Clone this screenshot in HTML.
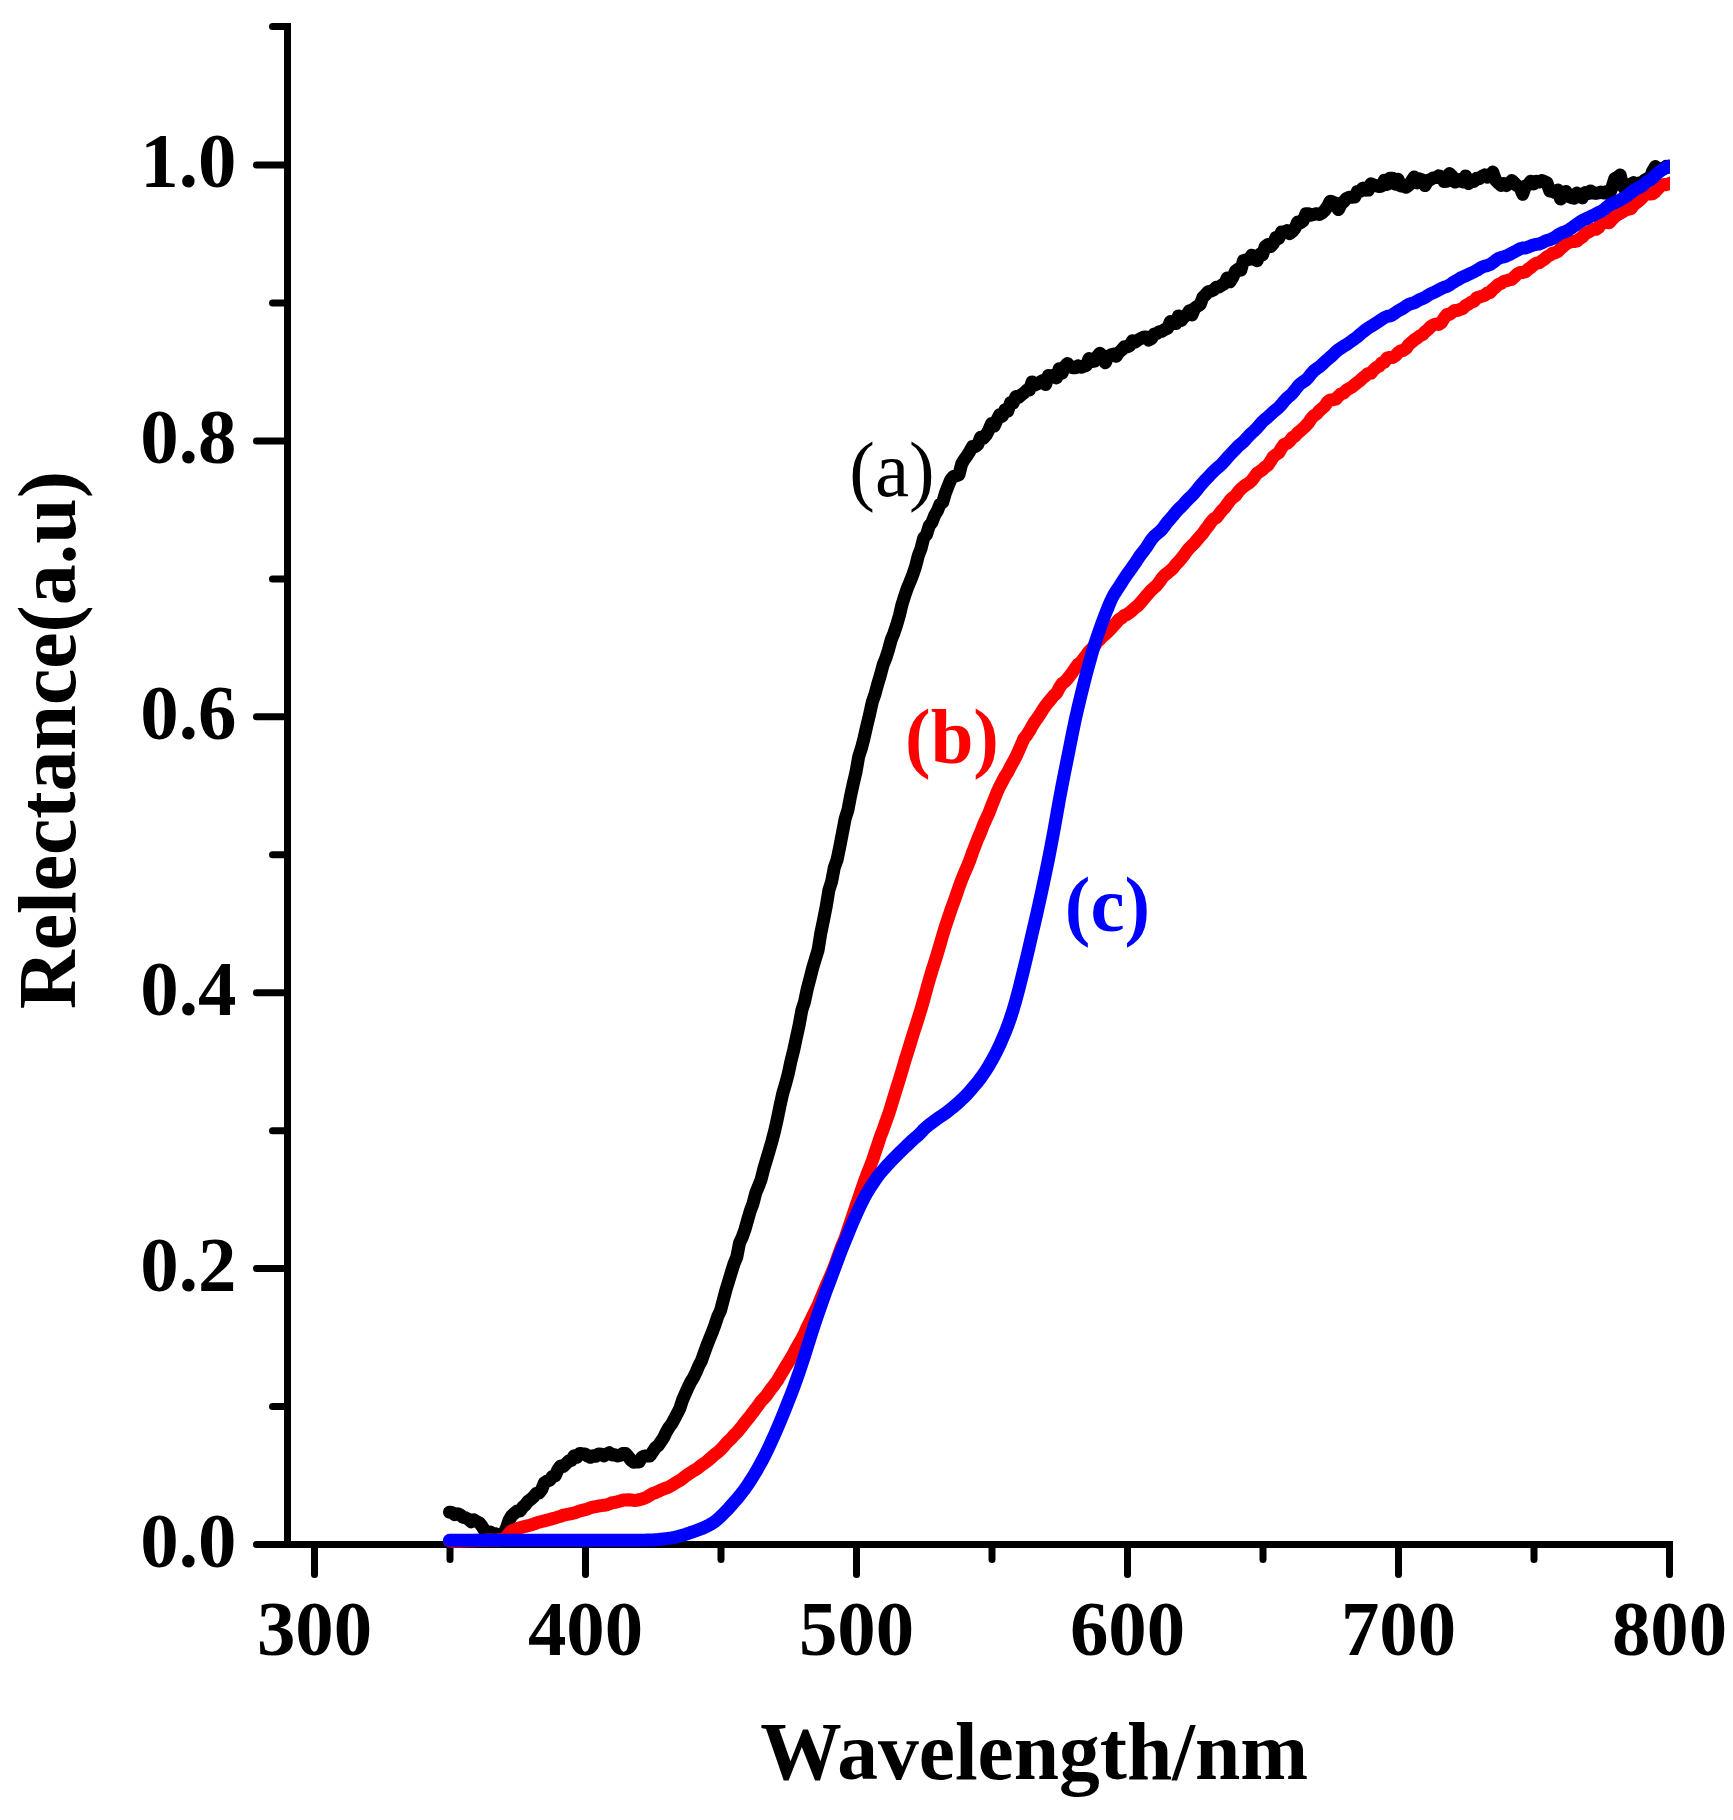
<!DOCTYPE html>
<html><head><meta charset="utf-8"><title>Reflectance spectra</title>
<style>html,body{margin:0;padding:0;background:#fff}svg{display:block}</style></head>
<body>
<svg width="1733" height="1820" viewBox="0 0 1733 1820">
<defs><clipPath id="cp"><rect x="284" y="20" width="1386" height="1530"/></clipPath></defs>
<rect width="1733" height="1820" fill="#fff"/>
<g stroke="#000" stroke-width="7" stroke-linecap="round" fill="none">
<path d="M287.5,23.0 V1548.0" stroke-linecap="butt"/>
<path d="M287.5,1544.5 H1673.0" stroke-linecap="butt"/>
<path d="M256.5,1544.5 H287.5"/>
<path d="M272.5,1406.5 H287.5"/>
<path d="M256.5,1268.6 H287.5"/>
<path d="M272.5,1130.7 H287.5"/>
<path d="M256.5,992.7 H287.5"/>
<path d="M272.5,854.8 H287.5"/>
<path d="M256.5,716.8 H287.5"/>
<path d="M272.5,578.9 H287.5"/>
<path d="M256.5,440.9 H287.5"/>
<path d="M272.5,303.0 H287.5"/>
<path d="M256.5,165.0 H287.5"/>
<path d="M272.5,26.5 H287.5"/>
<path d="M314.5,1544.5 V1574.5"/>
<path d="M450.0,1544.5 V1559.5"/>
<path d="M585.5,1544.5 V1574.5"/>
<path d="M721.0,1544.5 V1559.5"/>
<path d="M856.5,1544.5 V1574.5"/>
<path d="M992.0,1544.5 V1559.5"/>
<path d="M1127.5,1544.5 V1574.5"/>
<path d="M1263.0,1544.5 V1559.5"/>
<path d="M1398.5,1544.5 V1574.5"/>
<path d="M1534.0,1544.5 V1559.5"/>
<path d="M1669.5,1544.5 V1574.5"/>
</g>
<g clip-path="url(#cp)" fill="none" stroke-linejoin="round" stroke-linecap="round">
<polyline stroke="#000" stroke-width="13" points="449.5,1512.2 452.2,1512.7 454.9,1514.7 457.6,1513.7 460.3,1514.9 463.0,1517.2 465.8,1517.9 468.5,1519.3 471.2,1521.8 473.9,1519.9 476.6,1521.5 479.3,1522.8 482.0,1526.3 484.7,1530.7 487.4,1531.9 490.1,1532.0 492.9,1533.5 495.6,1533.8 498.3,1535.1 501.0,1535.6 503.7,1533.5 506.4,1528.0 509.1,1520.1 511.8,1515.6 514.5,1513.3 517.2,1511.1 520.0,1511.1 522.7,1507.2 525.4,1504.8 528.1,1501.3 530.8,1499.3 533.5,1496.9 536.2,1493.5 538.9,1493.1 541.6,1489.7 544.3,1483.0 547.1,1481.1 549.8,1480.1 552.5,1476.4 555.2,1475.8 557.9,1469.6 560.6,1466.0 563.3,1466.5 566.0,1463.7 568.7,1460.9 571.4,1460.3 574.2,1455.7 576.9,1457.3 579.6,1453.4 582.3,1453.7 585.0,1453.9 587.7,1456.0 590.4,1457.3 593.1,1455.8 595.8,1456.2 598.5,1453.9 601.3,1454.2 604.0,1455.9 606.7,1454.1 609.4,1452.7 612.1,1454.9 614.8,1454.7 617.5,1456.1 620.2,1455.3 622.9,1453.6 625.6,1453.4 628.4,1456.7 631.1,1460.2 633.8,1462.2 636.5,1461.9 639.2,1461.9 641.9,1457.1 644.6,1455.9 647.3,1455.9 650.0,1455.9 652.7,1451.9 655.5,1447.7 658.2,1445.6 660.9,1441.6 663.6,1437.6 666.3,1432.0 669.0,1427.4 671.7,1423.9 674.4,1418.9 677.1,1413.8 679.8,1408.4 682.6,1399.8 685.3,1393.6 688.0,1387.6 690.7,1382.0 693.4,1377.7 696.1,1372.1 698.8,1365.7 701.5,1360.6 704.2,1352.8 706.9,1345.5 709.7,1338.4 712.4,1331.8 715.1,1324.4 717.8,1316.3 720.5,1310.7 723.2,1300.3 725.9,1290.1 728.6,1281.4 731.3,1272.3 734.0,1263.8 736.8,1257.0 739.5,1243.0 742.2,1237.2 744.9,1229.6 747.6,1220.1 750.3,1210.7 753.0,1203.6 755.7,1193.1 758.4,1186.6 761.1,1179.5 763.9,1168.4 766.6,1159.5 769.3,1150.4 772.0,1141.0 774.7,1130.7 777.4,1118.6 780.1,1105.2 782.8,1093.1 785.5,1084.1 788.2,1074.0 791.0,1060.8 793.7,1050.2 796.4,1037.5 799.1,1025.1 801.8,1010.3 804.5,1002.0 807.2,989.1 809.9,978.8 812.6,968.1 815.3,959.2 818.1,950.0 820.8,933.1 823.5,920.1 826.2,906.6 828.9,890.0 831.6,881.7 834.3,867.4 837.0,860.1 839.7,847.2 842.4,833.0 845.2,818.5 847.9,810.1 850.6,795.8 853.3,783.5 856.0,772.1 858.7,756.5 861.4,748.3 864.1,737.8 866.8,725.9 869.5,714.8 872.3,701.8 875.0,694.1 877.7,684.1 880.4,675.1 883.1,664.9 885.8,658.2 888.5,649.8 891.2,639.8 893.9,633.2 896.6,625.2 899.4,615.5 902.1,604.1 904.8,595.6 907.5,587.7 910.2,581.3 912.9,574.4 915.6,566.4 918.3,555.6 921.0,548.6 923.7,537.9 926.5,534.6 929.2,525.8 931.9,522.5 934.6,515.5 937.3,511.0 940.0,504.3 942.7,502.3 945.4,493.2 948.1,486.2 950.8,479.5 953.6,476.4 956.3,475.9 959.0,474.7 961.7,463.9 964.4,459.3 967.1,455.7 969.8,451.3 972.5,446.6 975.2,446.6 977.9,444.4 980.7,437.2 983.4,438.2 986.1,435.1 988.8,430.0 991.5,423.4 994.2,426.1 996.9,420.0 999.6,414.7 1002.3,416.2 1005.0,409.9 1007.8,411.1 1010.5,402.8 1013.2,403.0 1015.9,396.5 1018.6,397.3 1021.3,394.9 1024.0,393.0 1026.7,390.3 1029.4,390.0 1032.1,381.9 1034.9,385.1 1037.6,383.7 1040.3,382.0 1043.0,380.5 1045.7,384.5 1048.4,375.5 1051.1,376.4 1053.8,375.1 1056.5,377.9 1059.2,368.7 1062.0,373.3 1064.7,366.6 1067.4,363.5 1070.1,366.2 1072.8,367.7 1075.5,367.8 1078.2,365.9 1080.9,367.3 1083.6,366.3 1086.3,365.5 1089.1,358.5 1091.8,361.7 1094.5,361.2 1097.2,356.5 1099.9,353.3 1102.6,356.0 1105.3,362.8 1108.0,356.4 1110.7,355.0 1113.4,354.1 1116.2,356.3 1118.9,352.4 1121.6,350.1 1124.3,346.7 1127.0,346.9 1129.7,345.8 1132.4,340.7 1135.1,342.2 1137.8,340.1 1140.5,338.6 1143.3,337.3 1146.0,336.9 1148.7,340.1 1151.4,338.6 1154.1,334.1 1156.8,333.5 1159.5,331.6 1162.2,331.2 1164.9,329.4 1167.6,328.3 1170.4,321.5 1173.1,323.2 1175.8,323.5 1178.5,315.9 1181.2,320.5 1183.9,316.9 1186.6,315.2 1189.3,310.8 1192.0,315.0 1194.7,308.1 1197.5,306.2 1200.2,304.5 1202.9,297.3 1205.6,294.6 1208.3,291.6 1211.0,291.1 1213.7,289.9 1216.4,287.3 1219.1,287.0 1221.8,285.1 1224.6,283.5 1227.3,277.9 1230.0,281.8 1232.7,277.5 1235.4,271.2 1238.1,269.1 1240.8,270.3 1243.5,260.5 1246.2,259.9 1248.9,259.6 1251.7,255.2 1254.4,259.4 1257.1,260.7 1259.8,254.1 1262.5,255.0 1265.2,246.5 1267.9,244.6 1270.6,246.5 1273.3,243.6 1276.0,237.5 1278.8,238.3 1281.5,232.0 1284.2,232.1 1286.9,230.7 1289.6,233.7 1292.3,231.5 1295.0,228.3 1297.7,221.9 1300.4,222.9 1303.1,220.8 1305.9,213.8 1308.6,213.8 1311.3,215.2 1314.0,214.3 1316.7,213.7 1319.4,214.4 1322.1,212.8 1324.8,210.4 1327.5,206.4 1330.2,201.2 1333.0,202.2 1335.7,203.3 1338.4,209.6 1341.1,204.1 1343.8,201.7 1346.5,198.4 1349.2,197.3 1351.9,197.3 1354.6,197.1 1357.3,191.6 1360.1,191.5 1362.8,188.1 1365.5,190.2 1368.2,190.1 1370.9,183.7 1373.6,185.1 1376.3,185.8 1379.0,186.6 1381.7,186.1 1384.4,180.2 1387.2,184.4 1389.9,178.3 1392.6,178.3 1395.3,184.2 1398.0,179.2 1400.7,185.9 1403.4,186.0 1406.1,187.2 1408.8,185.2 1411.5,181.1 1414.3,177.0 1417.0,182.9 1419.7,178.9 1422.4,180.0 1425.1,185.6 1427.8,180.4 1430.5,179.7 1433.2,177.9 1435.9,177.6 1438.6,175.8 1441.4,176.9 1444.1,181.6 1446.8,181.3 1449.5,173.6 1452.2,176.3 1454.9,182.1 1457.6,181.1 1460.3,179.5 1463.0,182.1 1465.7,175.9 1468.5,183.6 1471.2,181.6 1473.9,181.4 1476.6,178.3 1479.3,178.8 1482.0,176.3 1484.7,174.9 1487.4,177.1 1490.1,175.3 1492.8,172.1 1495.6,180.1 1498.3,182.8 1501.0,185.4 1503.7,183.6 1506.4,185.5 1509.1,183.5 1511.8,180.6 1514.5,183.1 1517.2,185.8 1519.9,186.9 1522.7,194.3 1525.4,186.1 1528.1,184.7 1530.8,181.2 1533.5,184.0 1536.2,181.2 1538.9,182.1 1541.6,180.6 1544.3,181.4 1547.0,182.8 1549.8,191.0 1552.5,191.3 1555.2,192.6 1557.9,190.1 1560.6,199.1 1563.3,192.7 1566.0,191.5 1568.7,196.5 1571.4,197.6 1574.1,198.2 1576.9,193.1 1579.6,195.8 1582.3,197.9 1585.0,192.6 1587.7,193.7 1590.4,190.9 1593.1,193.1 1595.8,193.4 1598.5,192.9 1601.2,192.1 1604.0,193.0 1606.7,191.6 1609.4,194.3 1612.1,187.2 1614.8,178.5 1617.5,177.2 1620.2,175.0 1622.9,186.2 1625.6,190.2 1628.3,188.4 1631.1,184.0 1633.8,182.6 1636.5,187.6 1639.2,183.0 1641.9,183.4 1644.6,180.1 1647.3,178.6 1650.0,178.4 1652.7,171.0 1655.4,166.5 1658.2,172.2 1660.9,168.4 1663.6,168.6 1666.3,166.4 1669.0,167.2 1671.7,166.9 1672.0,167.1"/>
<polyline stroke="#f00" stroke-width="13" points="449.5,1541.0 452.2,1541.2 454.9,1541.2 457.6,1541.3 460.3,1541.2 463.0,1541.0 465.8,1540.9 468.5,1540.7 471.2,1540.6 473.9,1540.7 476.6,1540.3 479.3,1540.4 482.0,1540.4 484.7,1540.4 487.4,1539.9 490.1,1540.0 492.9,1540.2 495.6,1540.4 498.3,1539.8 501.0,1539.6 503.7,1538.8 506.4,1537.1 509.1,1533.3 511.8,1530.7 514.5,1529.9 517.2,1528.7 520.0,1527.8 522.7,1527.0 525.4,1526.3 528.1,1525.7 530.8,1525.0 533.5,1524.1 536.2,1523.1 538.9,1522.2 541.6,1521.5 544.3,1520.9 547.1,1520.1 549.8,1519.5 552.5,1518.6 555.2,1518.0 557.9,1517.0 560.6,1516.3 563.3,1515.1 566.0,1514.7 568.7,1514.2 571.4,1513.6 574.2,1513.0 576.9,1512.1 579.6,1511.0 582.3,1510.3 585.0,1509.7 587.7,1509.0 590.4,1507.7 593.1,1507.0 595.8,1506.6 598.5,1506.0 601.3,1505.6 604.0,1505.3 606.7,1504.8 609.4,1503.9 612.1,1502.7 614.8,1502.4 617.5,1501.7 620.2,1501.0 622.9,1500.1 625.6,1500.1 628.4,1499.7 631.1,1500.0 633.8,1500.4 636.5,1500.2 639.2,1499.8 641.9,1499.0 644.6,1498.1 647.3,1496.9 650.0,1495.1 652.7,1493.5 655.5,1492.7 658.2,1491.4 660.9,1490.0 663.6,1488.9 666.3,1488.0 669.0,1486.9 671.7,1485.4 674.4,1483.6 677.1,1482.0 679.8,1480.6 682.6,1478.5 685.3,1476.3 688.0,1474.4 690.7,1472.6 693.4,1470.8 696.1,1469.4 698.8,1467.3 701.5,1465.2 704.2,1463.4 706.9,1461.4 709.7,1459.0 712.4,1456.6 715.1,1454.2 717.8,1452.2 720.5,1449.7 723.2,1446.9 725.9,1443.8 728.6,1440.9 731.3,1438.4 734.0,1435.3 736.8,1432.6 739.5,1429.3 742.2,1426.1 744.9,1422.5 747.6,1419.1 750.3,1415.8 753.0,1412.3 755.7,1408.6 758.4,1405.1 761.1,1401.1 763.9,1398.3 766.6,1395.3 769.3,1391.4 772.0,1387.7 774.7,1384.2 777.4,1380.5 780.1,1375.8 782.8,1371.4 785.5,1366.9 788.2,1362.5 791.0,1358.0 793.7,1353.2 796.4,1348.0 799.1,1343.4 801.8,1338.7 804.5,1333.3 807.2,1327.2 809.9,1321.9 812.6,1316.3 815.3,1310.7 818.1,1305.2 820.8,1298.4 823.5,1292.0 826.2,1285.4 828.9,1279.6 831.6,1273.4 834.3,1266.7 837.0,1259.2 839.7,1251.7 842.4,1244.7 845.2,1238.1 847.9,1229.9 850.6,1221.7 853.3,1214.0 856.0,1205.9 858.7,1198.2 861.4,1190.2 864.1,1182.4 866.8,1174.9 869.5,1168.0 872.3,1160.9 875.0,1152.8 877.7,1144.8 880.4,1136.5 883.1,1129.6 885.8,1121.9 888.5,1114.6 891.2,1105.9 893.9,1097.0 896.6,1088.3 899.4,1079.4 902.1,1070.3 904.8,1061.0 907.5,1052.5 910.2,1043.8 912.9,1034.9 915.6,1026.6 918.3,1018.0 921.0,1009.3 923.7,999.9 926.5,989.6 929.2,979.9 931.9,970.8 934.6,962.4 937.3,953.7 940.0,944.6 942.7,935.3 945.4,926.3 948.1,918.3 950.8,910.3 953.6,902.6 956.3,895.0 959.0,887.0 961.7,879.7 964.4,873.1 967.1,867.0 969.8,860.3 972.5,852.5 975.2,845.5 977.9,838.5 980.7,832.3 983.4,825.0 986.1,819.0 988.8,813.3 991.5,806.1 994.2,799.6 996.9,792.7 999.6,786.7 1002.3,781.6 1005.0,776.3 1007.8,772.2 1010.5,766.7 1013.2,761.8 1015.9,756.9 1018.6,750.8 1021.3,744.7 1024.0,738.4 1026.7,735.3 1029.4,731.1 1032.1,726.1 1034.9,721.5 1037.6,717.8 1040.3,713.8 1043.0,709.4 1045.7,705.5 1048.4,702.1 1051.1,698.8 1053.8,695.5 1056.5,693.2 1059.2,688.1 1062.0,683.7 1064.7,681.9 1067.4,678.9 1070.1,675.5 1072.8,671.8 1075.5,667.7 1078.2,664.2 1080.9,662.2 1083.6,658.8 1086.3,655.2 1089.1,651.4 1091.8,648.8 1094.5,646.0 1097.2,641.8 1099.9,639.4 1102.6,636.4 1105.3,634.2 1108.0,631.7 1110.7,628.9 1113.4,625.9 1116.2,622.9 1118.9,619.5 1121.6,618.1 1124.3,615.5 1127.0,614.4 1129.7,612.5 1132.4,610.2 1135.1,607.7 1137.8,605.7 1140.5,602.8 1143.3,599.5 1146.0,596.2 1148.7,593.2 1151.4,590.1 1154.1,587.7 1156.8,585.2 1159.5,581.8 1162.2,577.8 1164.9,575.0 1167.6,572.9 1170.4,570.6 1173.1,568.2 1175.8,564.5 1178.5,561.9 1181.2,558.6 1183.9,555.2 1186.6,551.4 1189.3,548.1 1192.0,545.5 1194.7,542.9 1197.5,539.4 1200.2,536.3 1202.9,533.3 1205.6,529.4 1208.3,526.0 1211.0,522.0 1213.7,518.9 1216.4,517.6 1219.1,514.2 1221.8,510.6 1224.6,507.9 1227.3,504.2 1230.0,500.4 1232.7,497.7 1235.4,495.8 1238.1,492.1 1240.8,489.0 1243.5,486.8 1246.2,484.6 1248.9,483.1 1251.7,480.5 1254.4,477.0 1257.1,473.2 1259.8,471.5 1262.5,469.6 1265.2,466.9 1267.9,465.2 1270.6,461.2 1273.3,456.6 1276.0,454.6 1278.8,452.8 1281.5,448.1 1284.2,444.3 1286.9,443.4 1289.6,441.2 1292.3,437.7 1295.0,436.1 1297.7,433.0 1300.4,430.7 1303.1,428.4 1305.9,425.7 1308.6,422.7 1311.3,418.4 1314.0,415.6 1316.7,414.0 1319.4,410.7 1322.1,408.4 1324.8,406.1 1327.5,401.9 1330.2,399.9 1333.0,399.7 1335.7,399.2 1338.4,396.3 1341.1,393.8 1343.8,392.8 1346.5,390.1 1349.2,388.5 1351.9,387.1 1354.6,384.8 1357.3,382.6 1360.1,380.5 1362.8,377.9 1365.5,375.8 1368.2,373.4 1370.9,373.3 1373.6,370.0 1376.3,367.5 1379.0,366.2 1381.7,363.0 1384.4,362.2 1387.2,357.9 1389.9,357.5 1392.6,357.5 1395.3,355.8 1398.0,352.8 1400.7,350.9 1403.4,350.3 1406.1,348.4 1408.8,344.6 1411.5,342.3 1414.3,339.8 1417.0,338.2 1419.7,336.0 1422.4,334.7 1425.1,331.8 1427.8,329.7 1430.5,326.8 1433.2,325.1 1435.9,324.0 1438.6,324.4 1441.4,322.7 1444.1,318.2 1446.8,314.5 1449.5,314.4 1452.2,312.3 1454.9,310.4 1457.6,310.4 1460.3,309.3 1463.0,308.3 1465.7,305.5 1468.5,304.1 1471.2,302.1 1473.9,301.5 1476.6,297.8 1479.3,297.1 1482.0,296.2 1484.7,295.3 1487.4,293.0 1490.1,292.5 1492.8,289.3 1495.6,287.1 1498.3,284.5 1501.0,283.5 1503.7,281.5 1506.4,280.8 1509.1,279.9 1511.8,279.3 1514.5,276.7 1517.2,274.1 1519.9,272.5 1522.7,272.5 1525.4,271.8 1528.1,269.2 1530.8,267.6 1533.5,265.1 1536.2,263.2 1538.9,262.9 1541.6,261.0 1544.3,259.3 1547.0,256.7 1549.8,255.3 1552.5,253.2 1555.2,252.8 1557.9,251.4 1560.6,248.7 1563.3,246.3 1566.0,244.0 1568.7,242.6 1571.4,241.6 1574.1,241.5 1576.9,241.1 1579.6,238.7 1582.3,237.0 1585.0,233.8 1587.7,232.4 1590.4,231.0 1593.1,229.4 1595.8,229.3 1598.5,227.7 1601.2,222.9 1604.0,222.8 1606.7,222.4 1609.4,222.7 1612.1,219.4 1614.8,216.7 1617.5,214.8 1620.2,213.2 1622.9,211.8 1625.6,209.7 1628.3,209.4 1631.1,208.5 1633.8,204.7 1636.5,202.8 1639.2,200.6 1641.9,198.0 1644.6,194.9 1647.3,193.9 1650.0,194.0 1652.7,193.8 1655.4,191.6 1658.2,188.3 1660.9,185.6 1663.6,184.5 1666.3,184.7 1669.0,183.8 1671.7,182.7 1672.0,182.4"/>
<polyline stroke="#00f" stroke-width="13" points="449.5,1540.3 452.2,1540.3 454.9,1540.3 457.6,1540.3 460.3,1540.3 463.0,1540.3 465.8,1540.3 468.5,1540.3 471.2,1540.3 473.9,1540.3 476.6,1540.3 479.3,1540.3 482.0,1540.3 484.7,1540.3 487.4,1540.3 490.1,1540.3 492.9,1540.3 495.6,1540.3 498.3,1540.3 501.0,1540.3 503.7,1540.3 506.4,1540.3 509.1,1540.3 511.8,1540.3 514.5,1540.3 517.2,1540.3 520.0,1540.3 522.7,1540.3 525.4,1540.3 528.1,1540.3 530.8,1540.3 533.5,1540.3 536.2,1540.3 538.9,1540.3 541.6,1540.3 544.3,1540.3 547.1,1540.3 549.8,1540.3 552.5,1540.3 555.2,1540.3 557.9,1540.3 560.6,1540.3 563.3,1540.3 566.0,1540.3 568.7,1540.3 571.4,1540.3 574.2,1540.3 576.9,1540.3 579.6,1540.3 582.3,1540.3 585.0,1540.3 587.7,1540.3 590.4,1540.3 593.1,1540.3 595.8,1540.3 598.5,1540.3 601.3,1540.3 604.0,1540.3 606.7,1540.3 609.4,1540.3 612.1,1540.3 614.8,1540.3 617.5,1540.3 620.2,1540.3 622.9,1540.3 625.6,1540.3 628.4,1540.3 631.1,1540.3 633.8,1540.3 636.5,1540.3 639.2,1540.3 641.9,1540.3 644.6,1540.2 647.3,1540.1 650.0,1540.0 652.7,1539.9 655.5,1539.7 658.2,1539.5 660.9,1539.2 663.6,1538.9 666.3,1538.6 669.0,1538.3 671.7,1537.9 674.4,1537.4 677.1,1536.8 679.8,1536.0 682.6,1535.2 685.3,1534.4 688.0,1533.5 690.7,1532.5 693.4,1531.6 696.1,1530.7 698.8,1529.7 701.5,1528.7 704.2,1527.5 706.9,1526.3 709.7,1524.8 712.4,1523.3 715.1,1521.4 717.8,1519.1 720.5,1516.7 723.2,1514.0 725.9,1511.2 728.6,1508.4 731.3,1505.4 734.0,1502.3 736.8,1499.2 739.5,1495.9 742.2,1492.4 744.9,1488.8 747.6,1485.0 750.3,1480.9 753.0,1476.6 755.7,1472.2 758.4,1467.4 761.1,1462.5 763.9,1457.3 766.6,1451.8 769.3,1446.2 772.0,1440.3 774.7,1434.3 777.4,1428.1 780.1,1421.7 782.8,1415.2 785.5,1408.5 788.2,1401.6 791.0,1394.6 793.7,1387.5 796.4,1380.1 799.1,1372.4 801.8,1364.3 804.5,1355.9 807.2,1347.4 809.9,1338.9 812.6,1330.4 815.3,1322.1 818.1,1314.0 820.8,1306.2 823.5,1298.4 826.2,1290.9 828.9,1283.7 831.6,1276.5 834.3,1269.2 837.0,1262.0 839.7,1254.8 842.4,1247.7 845.2,1240.9 847.9,1234.2 850.6,1227.6 853.3,1221.3 856.0,1215.2 858.7,1209.2 861.4,1203.5 864.1,1198.1 866.8,1193.2 869.5,1188.8 872.3,1184.5 875.0,1180.4 877.7,1176.5 880.4,1173.0 883.1,1169.9 885.8,1166.9 888.5,1163.9 891.2,1161.1 893.9,1158.3 896.6,1155.6 899.4,1152.7 902.1,1150.1 904.8,1147.6 907.5,1145.0 910.2,1142.3 912.9,1139.7 915.6,1137.5 918.3,1135.2 921.0,1132.4 923.7,1129.5 926.5,1127.0 929.2,1124.8 931.9,1122.8 934.6,1120.8 937.3,1118.8 940.0,1116.9 942.7,1115.1 945.4,1113.2 948.1,1111.2 950.8,1109.0 953.6,1106.8 956.3,1104.5 959.0,1102.1 961.7,1099.6 964.4,1097.1 967.1,1094.3 969.8,1091.2 972.5,1088.1 975.2,1084.9 977.9,1081.7 980.7,1078.0 983.4,1074.1 986.1,1070.1 988.8,1065.8 991.5,1061.1 994.2,1056.1 996.9,1050.9 999.6,1045.3 1002.3,1039.2 1005.0,1032.8 1007.8,1025.7 1010.5,1018.0 1013.2,1009.5 1015.9,1000.2 1018.6,990.1 1021.3,979.3 1024.0,968.4 1026.7,957.3 1029.4,945.8 1032.1,933.9 1034.9,922.0 1037.6,910.1 1040.3,897.8 1043.0,885.3 1045.7,872.7 1048.4,859.6 1051.1,845.6 1053.8,831.1 1056.5,816.0 1059.2,800.6 1062.0,785.8 1064.7,772.0 1067.4,758.6 1070.1,745.1 1072.8,731.5 1075.5,718.5 1078.2,706.8 1080.9,695.6 1083.6,684.6 1086.3,673.9 1089.1,663.7 1091.8,653.9 1094.5,644.9 1097.2,636.7 1099.9,628.9 1102.6,621.4 1105.3,614.3 1108.0,607.5 1110.7,601.0 1113.4,595.5 1116.2,591.1 1118.9,587.0 1121.6,582.7 1124.3,578.4 1127.0,574.6 1129.7,570.9 1132.4,567.0 1135.1,563.1 1137.8,559.0 1140.5,555.0 1143.3,551.4 1146.0,547.9 1148.7,543.7 1151.4,539.6 1154.1,536.4 1156.8,534.0 1159.5,531.8 1162.2,529.1 1164.9,525.5 1167.6,521.9 1170.4,518.8 1173.1,515.6 1175.8,512.2 1178.5,509.3 1181.2,506.7 1183.9,503.9 1186.6,500.9 1189.3,498.2 1192.0,495.6 1194.7,492.6 1197.5,489.3 1200.2,485.8 1202.9,482.7 1205.6,479.7 1208.3,476.9 1211.0,474.1 1213.7,471.3 1216.4,468.8 1219.1,466.5 1221.8,464.0 1224.6,461.0 1227.3,457.8 1230.0,454.9 1232.7,452.1 1235.4,449.2 1238.1,446.3 1240.8,444.0 1243.5,441.7 1246.2,438.8 1248.9,435.7 1251.7,433.0 1254.4,430.6 1257.1,427.9 1259.8,424.7 1262.5,421.6 1265.2,419.3 1267.9,417.1 1270.6,414.6 1273.3,412.0 1276.0,409.7 1278.8,407.4 1281.5,404.5 1284.2,401.1 1286.9,398.2 1289.6,395.9 1292.3,393.4 1295.0,390.1 1297.7,386.6 1300.4,383.8 1303.1,381.9 1305.9,380.0 1308.6,377.2 1311.3,373.6 1314.0,370.7 1316.7,368.7 1319.4,366.9 1322.1,364.5 1324.8,361.9 1327.5,359.5 1330.2,357.2 1333.0,354.8 1335.7,352.0 1338.4,349.7 1341.1,348.0 1343.8,346.2 1346.5,344.6 1349.2,342.7 1351.9,340.8 1354.6,338.9 1357.3,336.9 1360.1,334.4 1362.8,332.1 1365.5,330.0 1368.2,328.0 1370.9,326.4 1373.6,324.7 1376.3,323.0 1379.0,321.3 1381.7,319.4 1384.4,317.6 1387.2,316.4 1389.9,315.8 1392.6,314.8 1395.3,312.9 1398.0,310.9 1400.7,309.5 1403.4,308.0 1406.1,306.1 1408.8,304.4 1411.5,303.5 1414.3,302.7 1417.0,301.2 1419.7,299.6 1422.4,298.6 1425.1,297.3 1427.8,295.5 1430.5,293.9 1433.2,292.7 1435.9,291.6 1438.6,289.9 1441.4,288.4 1444.1,287.3 1446.8,286.5 1449.5,285.1 1452.2,283.1 1454.9,281.4 1457.6,279.9 1460.3,278.2 1463.0,276.9 1465.7,275.7 1468.5,274.4 1471.2,273.1 1473.9,271.9 1476.6,270.4 1479.3,268.7 1482.0,267.1 1484.7,266.2 1487.4,265.6 1490.1,264.5 1492.8,262.7 1495.6,260.4 1498.3,258.5 1501.0,257.5 1503.7,256.9 1506.4,256.0 1509.1,254.7 1511.8,253.2 1514.5,251.9 1517.2,250.4 1519.9,248.8 1522.7,248.1 1525.4,247.9 1528.1,247.1 1530.8,245.9 1533.5,245.0 1536.2,244.4 1538.9,244.0 1541.6,243.1 1544.3,241.6 1547.0,240.5 1549.8,239.7 1552.5,238.6 1555.2,237.0 1557.9,235.1 1560.6,233.4 1563.3,232.3 1566.0,231.3 1568.7,229.9 1571.4,228.1 1574.1,226.1 1576.9,224.2 1579.6,222.3 1582.3,220.6 1585.0,219.2 1587.7,218.0 1590.4,216.7 1593.1,215.4 1595.8,214.0 1598.5,212.6 1601.2,211.3 1604.0,209.6 1606.7,207.3 1609.4,205.1 1612.1,203.8 1614.8,202.7 1617.5,201.4 1620.2,199.9 1622.9,198.3 1625.6,196.8 1628.3,194.9 1631.1,192.5 1633.8,190.2 1636.5,188.7 1639.2,187.6 1641.9,186.1 1644.6,183.7 1647.3,181.5 1650.0,180.1 1652.7,178.1 1655.4,175.2 1658.2,172.6 1660.9,170.6 1663.6,169.0 1666.3,167.3 1669.0,166.1 1671.7,165.9 1672.0,166.4"/>
</g>
<g font-family="'Liberation Serif', 'Times New Roman', serif" font-weight="bold" font-size="78.8px" fill="#000">
<text transform="translate(236.3,1566.5) scale(0.975,1)" text-anchor="end">0.0</text>
<text transform="translate(236.3,1290.6) scale(0.975,1)" text-anchor="end">0.2</text>
<text transform="translate(236.3,1014.7) scale(0.975,1)" text-anchor="end">0.4</text>
<text transform="translate(236.3,738.8) scale(0.975,1)" text-anchor="end">0.6</text>
<text transform="translate(236.3,462.9) scale(0.975,1)" text-anchor="end">0.8</text>
<text transform="translate(236.3,187.0) scale(0.975,1)" text-anchor="end">1.0</text>
<text transform="translate(314.5,1655.0) scale(0.975,1)" text-anchor="middle">300</text>
<text transform="translate(585.5,1655.0) scale(0.975,1)" text-anchor="middle">400</text>
<text transform="translate(856.5,1655.0) scale(0.975,1)" text-anchor="middle">500</text>
<text transform="translate(1127.5,1655.0) scale(0.975,1)" text-anchor="middle">600</text>
<text transform="translate(1398.5,1655.0) scale(0.975,1)" text-anchor="middle">700</text>
<text transform="translate(1669.5,1655.0) scale(0.975,1)" text-anchor="middle">800</text>
<text transform="translate(1034.2,1778.8) scale(1,1)" text-anchor="middle" font-size="81.5px">Wavelength/nm</text>
<text transform="translate(74.9,740.2) rotate(-90)" text-anchor="middle" font-size="81.8px">Relectance(a.u)</text>
<text transform="translate(892.0,496.2) scale(0.975,1)" text-anchor="middle" font-weight="normal">(a)</text>
<text transform="translate(952.0,762.7) scale(0.975,1)" text-anchor="middle" fill="#f00">(b)</text>
<text transform="translate(1107.5,930.9) scale(0.975,1)" text-anchor="middle" fill="#00f">(c)</text>
</g>
</svg>
</body></html>
